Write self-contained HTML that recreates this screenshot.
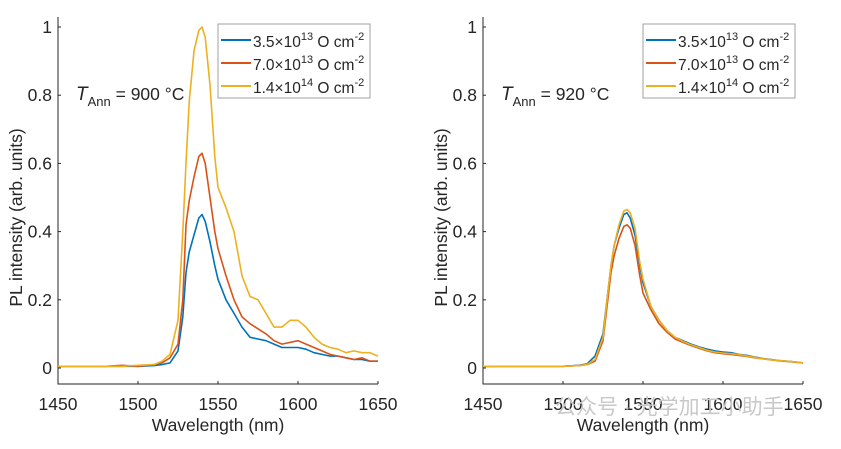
<!DOCTYPE html>
<html><head><meta charset="utf-8"><style>
body{margin:0;background:#fff;width:841px;height:444px;overflow:hidden}
svg{font-family:"Liberation Sans",sans-serif}
</style></head><body>
<svg id="chart" width="841" height="444"></svg>
<script>
const xs=[1450,1460,1470,1480,1490,1500,1510,1515,1520,1525,1528,1530,1532,1535,1538,1540,1542,1545,1548,1550,1555,1560,1565,1570,1575,1580,1585,1590,1595,1600,1605,1610,1615,1620,1625,1630,1635,1640,1645,1650];
const leftBlue=[0.005,0.005,0.005,0.005,0.005,0.005,0.007,0.01,0.015,0.05,0.15,0.28,0.34,0.39,0.44,0.45,0.43,0.37,0.3,0.26,0.2,0.16,0.12,0.09,0.085,0.08,0.07,0.06,0.06,0.06,0.055,0.045,0.04,0.035,0.035,0.03,0.025,0.025,0.02,0.02];
const leftRed=[0.005,0.005,0.005,0.005,0.008,0.005,0.01,0.015,0.03,0.07,0.2,0.42,0.49,0.56,0.62,0.63,0.6,0.5,0.4,0.35,0.27,0.2,0.15,0.13,0.115,0.1,0.08,0.07,0.075,0.08,0.07,0.06,0.05,0.04,0.035,0.03,0.025,0.03,0.02,0.02];
const leftYellow=[0.005,0.005,0.005,0.005,0.005,0.008,0.01,0.02,0.04,0.14,0.4,0.6,0.78,0.93,0.99,1.0,0.97,0.83,0.62,0.53,0.47,0.4,0.27,0.21,0.2,0.16,0.12,0.12,0.14,0.14,0.12,0.09,0.07,0.06,0.055,0.045,0.05,0.045,0.045,0.035];
const rightBlue=[0.005,0.005,0.005,0.005,0.005,0.005,0.008,0.012,0.035,0.1,0.22,0.3,0.36,0.41,0.45,0.455,0.44,0.39,0.3,0.25,0.18,0.14,0.11,0.09,0.08,0.07,0.062,0.055,0.05,0.047,0.045,0.04,0.037,0.032,0.028,0.025,0.022,0.02,0.018,0.015];
const rightRed=[0.005,0.005,0.005,0.005,0.005,0.005,0.007,0.01,0.02,0.08,0.2,0.28,0.33,0.38,0.415,0.42,0.41,0.36,0.27,0.22,0.17,0.13,0.105,0.085,0.075,0.066,0.058,0.05,0.045,0.042,0.04,0.037,0.034,0.03,0.027,0.024,0.021,0.019,0.017,0.015];
const rightYellow=[0.005,0.005,0.005,0.005,0.005,0.005,0.007,0.01,0.025,0.09,0.22,0.3,0.36,0.42,0.46,0.465,0.455,0.41,0.31,0.26,0.18,0.14,0.11,0.09,0.078,0.068,0.06,0.052,0.047,0.044,0.042,0.039,0.035,0.031,0.027,0.024,0.022,0.02,0.018,0.015];
const xTicks=[1450,1500,1550,1600,1650];
const yTicks=[0,0.2,0.4,0.6,0.8,1];
const yTickLabels=["0","0.2","0.4","0.6","0.8","1"];
const legendLabels=[["3.5","13"],["7.0","13"],["1.4","14"]];
const colors=["#0072BD","#D95319","#EDB120"];
const NS="http://www.w3.org/2000/svg";
const svg=document.getElementById('chart');
function mk(tag,attrs,parent){const e=document.createElementNS(NS,tag);for(const k in attrs)e.setAttribute(k,attrs[k]);(parent||svg).appendChild(e);return e;}
function panel(x0,temp,series,name){
  const g=mk('g',{});
  
  
  const X=v=>x0+(v-1450)/200*320;
  const Y=v=>368-v*341;
  const ax=mk('path',{d:`M${x0} 17 V384 H${x0+320}`,stroke:'#262626','stroke-width':1,fill:'none'},g);
  
  
  xTicks.forEach(t=>{
    mk('line',{x1:X(t),x2:X(t),y1:384,y2:381,stroke:'#262626'},g);
    const tx=mk('text',{x:X(t),y:410,'text-anchor':'middle','font-size':17.5,fill:'#262626'},g);
    tx.textContent=t;
    
    
  });
  yTicks.forEach((t,i)=>{
    mk('line',{x1:x0,x2:x0+3,y1:Y(t),y2:Y(t),stroke:'#262626'},g);
    const tx=mk('text',{x:x0-6,y:Y(t)+6,'text-anchor':'end','font-size':17.5,fill:'#262626'},g);
    tx.textContent=yTickLabels[i];
    
    
  });
  const xl=mk('text',{x:x0+160,y:431,'text-anchor':'middle','font-size':17.5,fill:'#262626'},g);
  xl.textContent='Wavelength (nm)';
  
  
  const yl=mk('text',{x:0,y:0,'text-anchor':'middle','font-size':17.5,fill:'#262626',transform:`translate(${x0-36},${Y(0.5)+20}) rotate(-90)`},g);
  yl.textContent='PL intensity (arb. units)';
  
  
  series.forEach((s,i)=>{
    const p=mk('path',{d:s.map((v,j)=>(j?'L':'M')+X(xs[j]).toFixed(1)+' '+Y(v).toFixed(1)).join(''),stroke:colors[i],'stroke-width':1.6,fill:'none','stroke-linejoin':'round'},g);
    
    
  });
  const an=mk('text',{x:x0+18,y:100,'font-size':17.5,fill:'#262626'},g);
  an.innerHTML=`<tspan font-style="italic" font-size="19">T</tspan><tspan dy="6" font-size="13">Ann</tspan><tspan dy="-6"> = ${temp} °C</tspan>`;
  
  
  const lx=x0+160;
  const lg=mk('g',{},g);
  
  
  mk('rect',{x:lx,y:24,width:152,height:74,fill:'#fff',stroke:'#a0a0a0'},lg);
  legendLabels.forEach((l,i)=>{
    const yy=40+i*23;
    mk('line',{x1:lx+3,x2:lx+33,y1:yy,y2:yy,stroke:colors[i],'stroke-width':2},lg);
    const t=mk('text',{x:lx+35,y:yy+7,'font-size':15.5,fill:'#262626'},lg);
    t.innerHTML=`${l[0]}×10<tspan dy="-7" font-size="11">${l[1]}</tspan><tspan dy="7"> O cm</tspan><tspan dy="-7" font-size="11">-2</tspan>`;
    
    
  });
}
panel(58,900,[leftBlue,leftRed,leftYellow],'left-panel-900C');
panel(483,920,[rightBlue,rightRed,rightYellow],'right-panel-920C');
const wm=mk('text',{x:555,y:414,'font-size':21,fill:'#c8c8c8','font-family':'"Liberation Sans","Noto Sans CJK SC",sans-serif'});
wm.textContent='公众号 · 光学加工小助手';


</script>
</body></html>
